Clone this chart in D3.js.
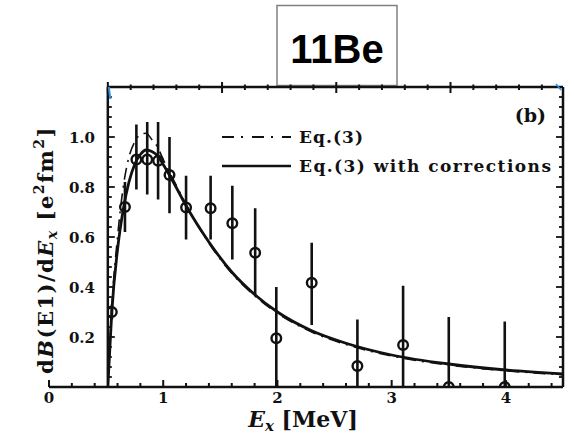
<!DOCTYPE html>
<html><head><meta charset="utf-8">
<script src="https://cdn.jsdelivr.net/npm/d3@7/dist/d3.min.js"></script>
<style>body{margin:0;background:#fff}svg{display:block}</style>
</head><body>
<svg id="c" width="574" height="435"></svg>
<script>
// ---- data ----
const pointEx   = [0.55, 0.665, 0.765, 0.86, 0.955, 1.055, 1.20, 1.415, 1.605, 1.805, 1.99, 2.30, 2.70, 3.10, 3.50, 3.99];
const pointVal  = [0.30, 0.72, 0.91, 0.91, 0.905, 0.848, 0.718, 0.715, 0.655, 0.537, 0.195, 0.417, 0.084, 0.168, 0.0, 0.0];
const pointHigh = [0.33, 0.82, 1.05, 1.06, 1.06, 1.00, 0.845, 0.845, 0.805, 0.715, 0.40, 0.577, 0.27, 0.405, 0.28, 0.262];
const pointLow  = [0.27, 0.62, 0.79, 0.77, 0.75, 0.695, 0.59, 0.59, 0.51, 0.368, 0.0, 0.248, 0.0, 0.0, 0.0, 0.0];

const curveEx   = [0.515, 0.53, 0.55, 0.60, 0.65, 0.70, 0.75, 0.80, 0.85, 0.90, 0.95, 1.00, 1.10, 1.20, 1.40, 1.60, 1.80, 2.00, 2.30, 2.60, 3.00, 3.50, 4.00, 4.50];
const eq3       = [0.0, 0.14, 0.32, 0.60, 0.80, 0.92, 0.98, 1.01, 1.015, 0.99, 0.96, 0.91, 0.82, 0.73, 0.575, 0.455, 0.365, 0.295, 0.22, 0.17, 0.124, 0.088, 0.065, 0.049];
const eq3Corr   = [0.0, 0.13, 0.30, 0.55, 0.71, 0.82, 0.89, 0.93, 0.948, 0.942, 0.925, 0.89, 0.81, 0.725, 0.58, 0.46, 0.37, 0.30, 0.225, 0.175, 0.128, 0.092, 0.068, 0.052];

const threshold = 0.515;
const xTickLabels = [0, 1, 2, 3, 4];
const yTickLabels = [0.2, 0.4, 0.6, 0.8, 1.0];
const legendLabels = ["Eq.(3)", "Eq.(3) with corrections"];
const titleText = "11Be";
const panelText = "(b)";

// ---- drawing ----
const svg = d3.select("#c");
const x = d3.scaleLinear().domain([0, 4.5]).range([49, 563]);
const y = d3.scaleLinear().domain([0, 1.2]).range([387, 87]);
const X0 = x(threshold), X1 = x(4.5), Y0 = y(0), Y1 = y(1.2);
const ink = "#111";
const serif = "DejaVu Serif, Liberation Serif, serif";

// title box
svg.append("rect").attr("x", 277).attr("y", 5.5).attr("width", 120).attr("height", 80)
  .attr("fill", "#fff").attr("stroke", "#808080").attr("stroke-width", 1.5);
svg.append("text").attr("x", 337).attr("y", 63).attr("text-anchor", "middle")
  .attr("font-family", "Liberation Sans, Arial, sans-serif").attr("font-weight", "bold")
  .attr("font-size", 40).text(titleText);

const g = svg.append("g");

// frame
g.append("line").attr("x1", x(0)).attr("x2", X1).attr("y1", Y0).attr("y2", Y0).attr("stroke", ink).attr("stroke-width", 2.5);
g.append("line").attr("x1", X0).attr("x2", X1).attr("y1", Y1).attr("y2", Y1).attr("stroke", ink).attr("stroke-width", 2.5);
g.append("line").attr("x1", X0).attr("x2", X0).attr("y1", Y0).attr("y2", Y1).attr("stroke", ink).attr("stroke-width", 2.5);
g.append("line").attr("x1", X1).attr("x2", X1).attr("y1", Y0).attr("y2", Y1).attr("stroke", ink).attr("stroke-width", 2.5);

// bottom ticks
const bottomMinor = d3.range(0, 4.51, 0.2);
g.selectAll(".bt").data(bottomMinor).join("line")
  .attr("x1", d => x(d)).attr("x2", d => x(d)).attr("y1", Y0)
  .attr("y2", d => Math.abs(d - Math.round(d)) < 1e-6 ? Y0 - 7 : Y0 - 4)
  .attr("stroke", ink).attr("stroke-width", 2);
// top ticks (start at threshold)
const topTicks = d3.range(0, 20).map(i => threshold + i * 0.2).filter(d => d <= 4.5);
g.selectAll(".tt").data(topTicks).join("line")
  .attr("x1", d => x(d)).attr("x2", d => x(d))
  .attr("y1", (d, i) => i % 5 === 0 ? Y1 - 5 : Y1 - 2.5)
  .attr("y2", (d, i) => i % 5 === 0 ? Y1 + 6 : Y1 + 3)
  .attr("stroke", ink).attr("stroke-width", 2);
// left & right ticks
const yMinor = d3.range(0, 31).map(i => i * 0.04);
g.selectAll(".lt").data(yMinor).join("line")
  .attr("x1", X0).attr("x2", (d, i) => i % 5 === 0 ? X0 + 7 : X0 + 4)
  .attr("y1", d => y(d)).attr("y2", d => y(d)).attr("stroke", ink).attr("stroke-width", 1.8);
g.selectAll(".rt").data(yMinor).join("line")
  .attr("x1", X1).attr("x2", (d, i) => i % 5 === 0 ? X1 - 7 : X1 - 4)
  .attr("y1", d => y(d)).attr("y2", d => y(d)).attr("stroke", ink).attr("stroke-width", 1.8);

// tick labels
g.selectAll(".xl").data(xTickLabels).join("text")
  .attr("x", d => x(d)).attr("y", 403).attr("text-anchor", "middle")
  .attr("font-family", serif).attr("font-weight", "bold").attr("font-size", 15)
  .attr("fill", ink).text(d => d);
g.selectAll(".yl").data(yTickLabels).join("text")
  .attr("x", 95).attr("y", d => y(d) + 5.5).attr("text-anchor", "end")
  .attr("font-family", serif).attr("font-weight", "bold").attr("font-size", 15)
  .attr("fill", ink).text(d => d.toFixed(1));

// blue corner artifacts
svg.append("line").attr("x1", X0 + 1).attr("y1", Y1).attr("x2", X0 + 2.5).attr("y2", Y1 + 12)
  .attr("stroke", "#2f8fe0").attr("stroke-width", 2);
svg.append("line").attr("x1", X1 - 7).attr("y1", Y1 - 3).attr("x2", X1 - 2).attr("y2", Y1 + 3)
  .attr("stroke", "#2f8fe0").attr("stroke-width", 1.5);

// clip
svg.append("clipPath").attr("id", "clip").append("rect")
  .attr("x", X0).attr("y", Y1).attr("width", X1 - X0).attr("height", Y0 - Y1);
const plot = svg.append("g").attr("clip-path", "url(#clip)");

const line = d3.line().x(d => x(d[0])).y(d => y(d[1])).curve(d3.curveMonotoneX);
plot.append("path").datum(curveEx.map((e, i) => [e, eq3[i]])).attr("d", line)
  .attr("fill", "none").attr("stroke", ink).attr("stroke-width", 1.6).attr("stroke-dasharray", "12,6,2,6");
plot.append("path").datum(curveEx.map((e, i) => [e, eq3Corr[i]])).attr("d", line)
  .attr("fill", "none").attr("stroke", ink).attr("stroke-width", 2.8);

// error bars and points
plot.selectAll(".eb").data(pointEx).join("line")
  .attr("x1", d => x(d)).attr("x2", d => x(d))
  .attr("y1", (d, i) => y(pointLow[i])).attr("y2", (d, i) => y(pointHigh[i]))
  .attr("stroke", ink).attr("stroke-width", 2.6);
plot.selectAll(".pt").data(pointEx).join("circle")
  .attr("cx", d => x(d)).attr("cy", (d, i) => y(pointVal[i])).attr("r", 4.8)
  .attr("fill", "none").attr("stroke", ink).attr("stroke-width", 2.4);

// legend
g.append("line").attr("x1", 222).attr("x2", 291).attr("y1", 137).attr("y2", 137)
  .attr("stroke", ink).attr("stroke-width", 1.8).attr("stroke-dasharray", "12,7,2,9");
g.append("line").attr("x1", 222).attr("x2", 291).attr("y1", 166).attr("y2", 166)
  .attr("stroke", ink).attr("stroke-width", 2.6);
const legWidths = [64, 252];
g.selectAll(".lg").data(legendLabels).join("text")
  .attr("x", 299).attr("y", (d, i) => 143 + i * 29)
  .attr("font-family", serif).attr("font-weight", "bold").attr("font-size", 17)
  .attr("textLength", (d, i) => legWidths[i]).attr("lengthAdjust", "spacing")
  .attr("fill", ink).text(d => d);
g.append("text").attr("x", 546).attr("y", 122).attr("text-anchor", "end")
  .attr("font-family", serif).attr("font-weight", "bold").attr("font-size", 19)
  .attr("fill", ink).text(panelText);

// axis titles
const xt = svg.append("text").attr("x", 303).attr("y", 427).attr("text-anchor", "middle")
  .attr("font-family", serif).attr("font-weight", "bold").attr("font-size", 22).attr("fill", ink);
xt.append("tspan").attr("font-style", "italic").text("E");
xt.append("tspan").attr("font-style", "italic").attr("font-size", 15).attr("dy", 4).text("x");
xt.append("tspan").attr("dy", -4).text(" [MeV]");

const yt = svg.append("text").attr("transform", "translate(53,250) rotate(-90)")
  .attr("text-anchor", "middle")
  .attr("font-family", serif).attr("font-weight", "bold").attr("font-size", 21)
  .attr("letter-spacing", 1.5).attr("fill", ink);
yt.append("tspan").text("d");
yt.append("tspan").attr("font-style", "italic").text("B");
yt.append("tspan").text("(E1)/d");
yt.append("tspan").attr("font-style", "italic").text("E");
yt.append("tspan").attr("font-style", "italic").attr("font-size", 14).attr("dy", 4).text("x");
yt.append("tspan").attr("dy", -4).text(" [e");
yt.append("tspan").attr("font-size", 14).attr("dy", -9).text("2");
yt.append("tspan").attr("dy", 9).text("fm");
yt.append("tspan").attr("font-size", 14).attr("dy", -9).text("2");
yt.append("tspan").attr("dy", 9).text("]");
</script>
</body></html>
